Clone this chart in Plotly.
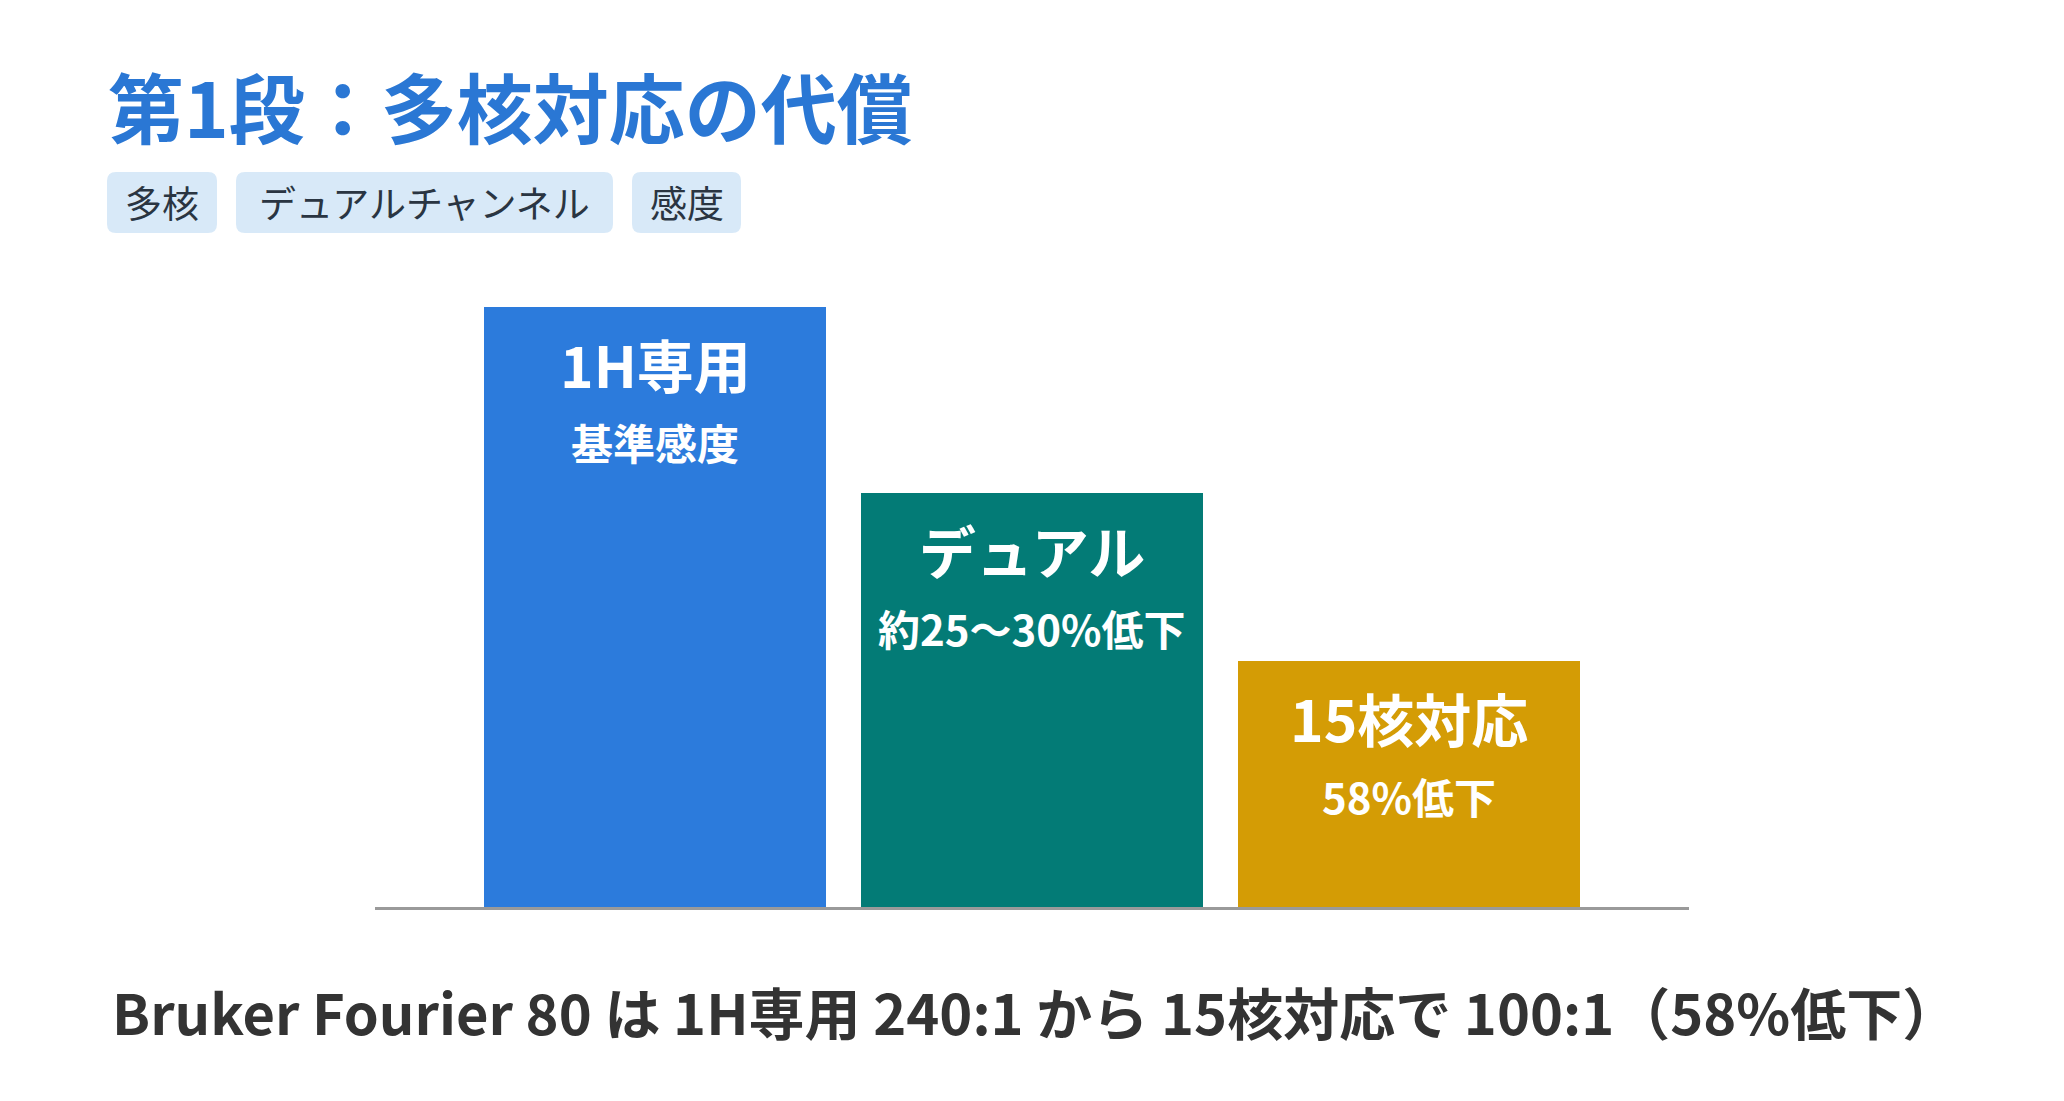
import plotly.graph_objects as go

# ---- data ----
categories = ["1H専用", "デュアル", "15核対応"]
values = [100, 69, 41]
subtitles = ["基準感度", "約25～30%低下", "58%低下"]
bar_colors = ["#2c7bdc", "#037b76", "#d49c05"]
title_text = "第1段：多核対応の代償"
tags = ["多核", "デュアルチャンネル", "感度"]
caption_text = "Bruker Fourier 80 は 1H専用 240:1 から 15核対応で 100:1（58%低下）"

# ---- layout geometry (pixels) ----
W, H = 2064, 1101
ML, MR, MT, MB = 375, 375, 307, 194
PW = W - ML - MR
PH = H - MT - MB
FONT = "Noto Sans CJK JP"


def px(x):
    return (x - ML) / PW


def py(y):
    return (H - MB - y) / PH


fig = go.Figure()
fig.add_trace(go.Bar(
    x=categories, y=values, width=0.908,
    marker=dict(color=bar_colors, line=dict(width=0)),
    hoverinfo="skip", showlegend=False,
))

annotations = []
for c, v, s in zip(categories, values, subtitles):
    annotations.append(dict(x=c, y=v, xref="x", yref="y", text=c, showarrow=False,
                            yanchor="middle", yshift=-56,
                            font=dict(family=FONT, size=57, color="white", weight="bold")))
    annotations.append(dict(x=c, y=v, xref="x", yref="y", text=s, showarrow=False,
                            yanchor="middle", yshift=-134,
                            font=dict(family=FONT, size=42, color="white", weight="bold")))

# title
annotations.append(dict(x=px(106), y=py(105), xref="paper", yref="paper", text=title_text,
                        showarrow=False, xanchor="left", yanchor="middle",
                        font=dict(family=FONT, size=76, color="#2a77d4", weight="bold")))

# tags
tag_boxes = [(107, 217), (236, 613), (632, 741)]
tag_top, tag_bot = 172, 233
shapes = []
r = 9
for (x0, x1), t in zip(tag_boxes, tags):
    X0, X1 = px(x0), px(x1)
    Y0, Y1 = py(tag_bot), py(tag_top)
    rx, ry = r / PW, r / PH
    path = (f"M {X0+rx},{Y0} L {X1-rx},{Y0} Q {X1},{Y0} {X1},{Y0+ry} "
            f"L {X1},{Y1-ry} Q {X1},{Y1} {X1-rx},{Y1} L {X0+rx},{Y1} "
            f"Q {X0},{Y1} {X0},{Y1-ry} L {X0},{Y0+ry} Q {X0},{Y0} {X0+rx},{Y0} Z")
    shapes.append(dict(type="path", path=path, xref="paper", yref="paper",
                       fillcolor="#d8e9f8", line=dict(width=0), layer="below"))
    annotations.append(dict(x=(X0 + X1) / 2, y=(Y0 + Y1) / 2, xref="paper", yref="paper",
                            text=t, showarrow=False, xanchor="center", yanchor="middle",
                            font=dict(family=FONT, size=37, color="#2a3542")))

# caption
annotations.append(dict(x=px(110), y=py(1010), xref="paper", yref="paper", text=caption_text,
                        showarrow=False, xanchor="left", yanchor="middle",
                        font=dict(family=FONT, size=56, color="#333333", weight="bold")))

fig.update_layout(
    width=W, height=H,
    margin=dict(l=ML, r=MR, t=MT, b=MB, pad=0),
    paper_bgcolor="white", plot_bgcolor="white",
    xaxis=dict(range=[-0.744, 2.744], showgrid=False, zeroline=False, showticklabels=False,
               ticks="", showline=True, linecolor="#9a9a9a", linewidth=3, fixedrange=True),
    yaxis=dict(range=[0, 100], showgrid=False, zeroline=False, showticklabels=False,
               ticks="", showline=False, fixedrange=True),
    annotations=annotations,
    shapes=shapes,
    bargap=0,
)

fig.write_html("out.html", config={"displayModeBar": False},
               post_script="document.body.style.margin='0';document.body.style.overflow='hidden';")
